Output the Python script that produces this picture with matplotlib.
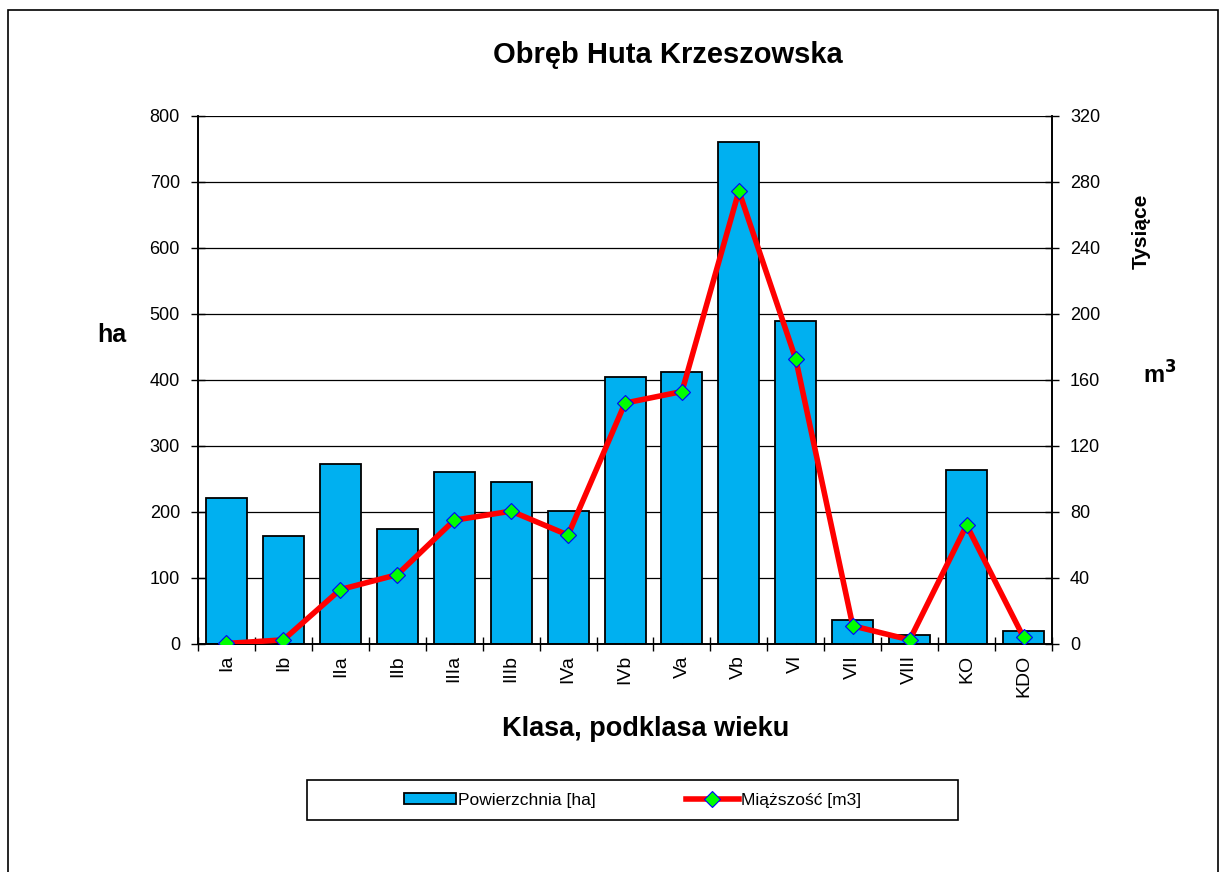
import matplotlib.pyplot as plt
import matplotlib.patches as patches
import numpy as np

# ------------------- Data -------------------
classes = ["Ia", "Ib", "IIa", "IIb", "IIIa", "IIIb", "IVa", "IVb",
           "Va", "Vb", "VI", "VII", "VIII", "KO", "KDO"]
area_ha = [221, 164, 272, 174, 261, 245, 201, 405,
           412, 761, 490, 36, 13, 263, 20]
volume_k_m3 = [0.3, 2.5, 33, 42, 75, 80.5, 66, 146,
               153, 274.5, 172.5, 11, 2.5, 72, 4]

plt.rcParams['font.family'] = ['Liberation Sans', 'DejaVu Sans']

fig = plt.figure(figsize=(12.26, 8.72), dpi=100)
ax = fig.add_axes([0.1615, 0.2615, 0.6966, 0.6055])
ax2 = ax.twinx()

x = np.arange(len(classes))
bars = ax.bar(x, area_ha, width=0.72, color='#00B0F0', edgecolor='black',
              linewidth=1.3, label='Powierzchnia [ha]', zorder=3)
line, = ax2.plot(x, volume_k_m3, color='#FF0000', linewidth=4,
                 marker='D', markersize=8, markerfacecolor='#00FF00',
                 markeredgecolor='#0000FF', markeredgewidth=0.8,
                 label='Miąższość [m3]', zorder=4)

ax.set_xlim(-0.5, len(classes) - 0.5)
ax.set_ylim(0, 800)
ax2.set_ylim(0, 320)
ax.set_yticks(range(0, 801, 100))
ax2.set_yticks(range(0, 321, 40))
ax.yaxis.grid(True, color='black', linewidth=0.9, zorder=0)
ax.set_axisbelow(True)

# x ticks at category boundaries, labels centred under bars
ax.set_xticks(np.arange(-0.5, len(classes), 1.0))
ax.set_xticklabels([])
ax.set_xticks(x, minor=True)
ax.set_xticklabels(classes, minor=True, rotation=90, fontsize=14)
ax.tick_params(axis='x', which='major', direction='inout', length=10, width=1)
ax.tick_params(axis='x', which='minor', direction='in', length=5, width=1, pad=8)
ax.tick_params(axis='y', direction='inout', length=10, width=1, labelsize=13, pad=8)
ax2.tick_params(axis='y', direction='inout', length=10, width=1, labelsize=13, pad=8)

for a in (ax, ax2):
    a.spines['top'].set_visible(False)
    for s in ('left', 'right', 'bottom'):
        a.spines[s].set_linewidth(1.2)

# labels
fig.text(0.545, 0.937, 'Obręb Huta Krzeszowska', ha='center', va='center',
         fontsize=21, fontweight='bold')
fig.text(0.0915, 0.616, 'ha', ha='center', va='center', fontsize=18, fontweight='bold')
fig.text(0.931, 0.735, 'Tysiące', ha='center', va='center', rotation=90,
         fontsize=15, fontweight='bold')
fig.text(0.946, 0.57, 'm$^\\mathbf{3}$', ha='center', va='center',
         fontsize=17, fontweight='bold')
fig.text(0.527, 0.164, 'Klasa, podklasa wieku', ha='center', va='center',
         fontsize=19.5, fontweight='bold')

# legend box, then entries centred inside it
fig.patches.append(patches.Rectangle((307 / 1226, 1 - 820 / 872), 651 / 1226, 40 / 872,
                                     transform=fig.transFigure, fill=False,
                                     edgecolor='black', linewidth=1.2))
fig.legend([bars, line], ['Powierzchnia [ha]', 'Miąższość [m3]'],
           loc='center', bbox_to_anchor=(632.5 / 1226, 1 - 800 / 872),
           ncol=2, fontsize=12.5, frameon=False,
           handlelength=3.0, handleheight=0.6, handletextpad=0.15,
           columnspacing=5.2)

# outer chart border
fig.patches.append(patches.Rectangle((8 / 1226, -0.1), 1210 / 1226, 1.1 - 10 / 872,
                                     transform=fig.transFigure, fill=False,
                                     edgecolor='black', linewidth=1.2))

fig.savefig('out.png', dpi=100)
